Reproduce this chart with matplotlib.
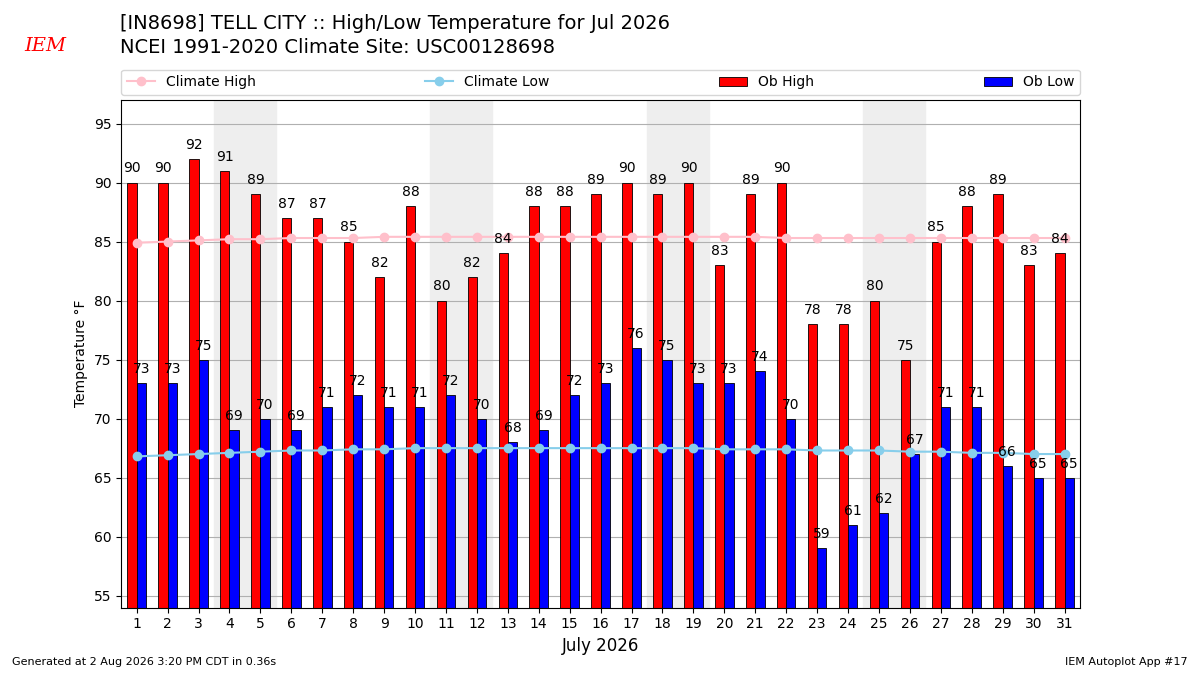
import numpy as np
import matplotlib.pyplot as plt

days = np.arange(1, 32)
ob_high = [90, 90, 92, 91, 89, 87, 87, 85, 82, 88, 80, 82, 84, 88, 88, 89, 90, 89, 90, 83,
           89, 90, 78, 78, 80, 75, 85, 88, 89, 83, 84]
ob_low = [73, 73, 75, 69, 70, 69, 71, 72, 71, 71, 72, 70, 68, 69, 72, 73, 76, 75, 73, 73,
          74, 70, 59, 61, 62, 67, 71, 71, 66, 65, 65]
clim_high = [84.9, 85.0, 85.1, 85.2, 85.2, 85.3, 85.3, 85.3, 85.4, 85.4, 85.4, 85.4, 85.4,
             85.4, 85.4, 85.4, 85.4, 85.4, 85.4, 85.4, 85.4, 85.3, 85.3, 85.3, 85.3, 85.3,
             85.3, 85.3, 85.3, 85.3, 85.3]
clim_low = [66.8, 66.9, 67.0, 67.1, 67.2, 67.3, 67.3, 67.4, 67.4, 67.5, 67.5, 67.5, 67.5,
            67.5, 67.5, 67.5, 67.5, 67.5, 67.5, 67.4, 67.4, 67.4, 67.3, 67.3, 67.3, 67.2,
            67.2, 67.1, 67.1, 67.0, 67.0]
weekends = [4, 11, 18, 25]

fig = plt.figure(figsize=(12, 6.75), dpi=100)
ax = fig.add_axes([0.101, 0.1, 0.799, 0.752])

for d in weekends:
    ax.axvspan(d - 0.5, d + 1.5, color='#eeeeee', zorder=0)

w = 0.3
ax.plot(days, clim_high, '-o', color='pink', markersize=6, label='Climate High', zorder=3)
ax.plot(days, clim_low, '-o', color='skyblue', markersize=6, label='Climate Low', zorder=3)
ax.bar(days - w / 2, ob_high, w, color='red', edgecolor='black', linewidth=0.6, label='Ob High', zorder=2)
ax.bar(days + w / 2, ob_low, w, color='blue', edgecolor='black', linewidth=0.6, label='Ob Low', zorder=2)

for d, h, l in zip(days, ob_high, ob_low):
    ax.text(d - w / 2, h + 0.6, str(h), ha='center', va='bottom', fontsize=10, zorder=4)
    ax.text(d + w / 2, l + 0.6, str(l), ha='center', va='bottom', fontsize=10, zorder=4)

ax.set_xlim(0.5, 31.5)
ax.set_ylim(54, 97)
ax.set_xticks(days)
ax.set_yticks(range(55, 96, 5))
ax.yaxis.grid(True, color='#b0b0b0', linewidth=0.8, zorder=1)
ax.set_axisbelow(True)
ax.set_xlabel('July 2026', fontsize=12)
ax.set_ylabel('Temperature °F')

ax.legend(ncol=4, mode='expand', loc='lower left', borderaxespad=0,
          bbox_to_anchor=(0, 1.01, 1, 0.1), fontsize=10)

fig.text(0.1, 0.965, '[IN8698] TELL CITY :: High/Low Temperature for Jul 2026', fontsize=14, va='center')
fig.text(0.1, 0.93, 'NCEI 1991-2020 Climate Site: USC00128698', fontsize=14, va='center')
fig.text(0.02, 0.925, 'IEM', color='red', fontsize=14, style='italic', family='serif')
fig.text(0.01, 0.015, 'Generated at 2 Aug 2026 3:20 PM CDT in 0.36s', fontsize=8)
fig.text(0.99, 0.015, 'IEM Autoplot App #17', fontsize=8, ha='right')

fig.savefig('out.png')
